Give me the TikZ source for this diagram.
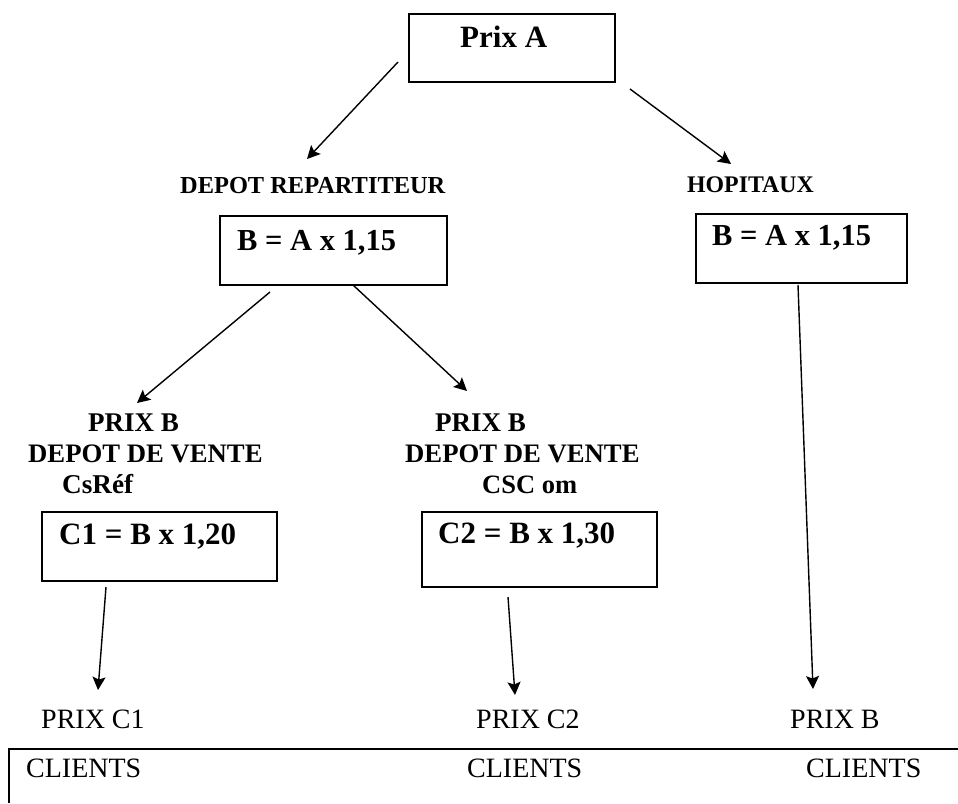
\documentclass[tikz,border=0pt]{standalone}
\usepackage{fontspec}
\setmainfont{Liberation Serif}
\usetikzlibrary{arrows.meta}
\begin{document}
\begin{tikzpicture}[x=1pt,y=-1pt,
  box/.style={draw,line width=1.6pt,inner sep=0pt},
  lbl/.style={anchor=base west,inner sep=0pt,font=\bfseries\fontsize{#1}{#1}\selectfont},
  lbl/.default=26.6,
  rlbl/.style={anchor=base west,inner sep=0pt,font=\fontsize{28}{28}\selectfont},
  conn/.style={line width=1.4pt,-{Stealth[length=13pt,width=13pt,inset=2.5pt]}}]
\useasboundingbox (0,0) rectangle (958,803);
% boxes
\node[box,minimum width=206pt,minimum height=68pt] (pa) at (512,48) {};
\node[box,minimum width=227pt,minimum height=69pt] (bl) at (333.5,250.5) {};
\node[box,minimum width=211pt,minimum height=69pt] (br) at (801.5,248.5) {};
\node[box,minimum width=235pt,minimum height=69pt] (c1) at (159.5,546.5) {};
\node[box,minimum width=235pt,minimum height=75pt] (c2) at (539.5,549.5) {};
% texts
\node[lbl=31] (tpa) at (460,47) {Prix A};
\node[lbl=24.4] (tdr) at (180,193) {DEPOT REPARTITEUR};
\node[lbl=23.8] (thop) at (687,192) {HOPITAUX};
\node[lbl=30.5] (tbl) at (237,250) {B = A x 1,15};
\node[lbl=30.5] (tbr) at (712,245) {B = A x 1,15};
\node[lbl=27] (pb1) at (88,431) {PRIX B};
\node[lbl=26.7] (dv1) at (28,462) {DEPOT DE VENTE};
\node[lbl=27.2] (cs1) at (62,493) {CsRéf};
\node[lbl=31] (tc1) at (59,544) {C1 = B x 1,20};
\node[lbl=27] (pb2) at (435,431) {PRIX B};
\node[lbl=26.7] (dv2) at (405,462) {DEPOT DE VENTE};
\node[lbl=26.5] (cs2) at (482,493) {CSC om};
\node[lbl=31] (tc2) at (438,543) {C2 = B x 1,30};
\node[rlbl] (pc1) at (41,728) {PRIX C1};
\node[rlbl] (pc2) at (476,728) {PRIX C2};
\node[rlbl] (pb3) at (790,728) {PRIX B};
\node[rlbl] (cl1) at (26,777) {CLIENTS};
\node[rlbl] (cl2) at (467,777) {CLIENTS};
\node[rlbl] (cl3) at (806,777) {CLIENTS};
% bottom frame
\coordinate (fa) at (9,803);
\coordinate (fb) at (9,749);
\coordinate (fc) at (958,749);
\draw[line width=1.6pt] (fa) -- (fb) -- (fc);
% connector end points
\coordinate (s1) at (398,62);   \coordinate (e1) at (307,159);
\coordinate (s2) at (630,89);   \coordinate (e2) at (731,164);
\coordinate (s3) at (270,292);  \coordinate (e3) at (137,403);
\coordinate (s4) at (353,285);  \coordinate (e4) at (467,391);
\coordinate (s5) at (106,587);  \coordinate (e5) at (98,690);
\coordinate (s6) at (508,597);  \coordinate (e6) at (515,695);
\coordinate (s7) at (798,285);  \coordinate (e7) at (813,689);
\draw[conn] (s1) -- (e1);
\draw[conn] (s2) -- (e2);
\draw[conn] (s3) -- (e3);
\draw[conn] (s4) -- (e4);
\draw[conn] (s5) -- (e5);
\draw[conn] (s6) -- (e6);
\draw[conn] (s7) -- (e7);
\end{tikzpicture}
\end{document}
